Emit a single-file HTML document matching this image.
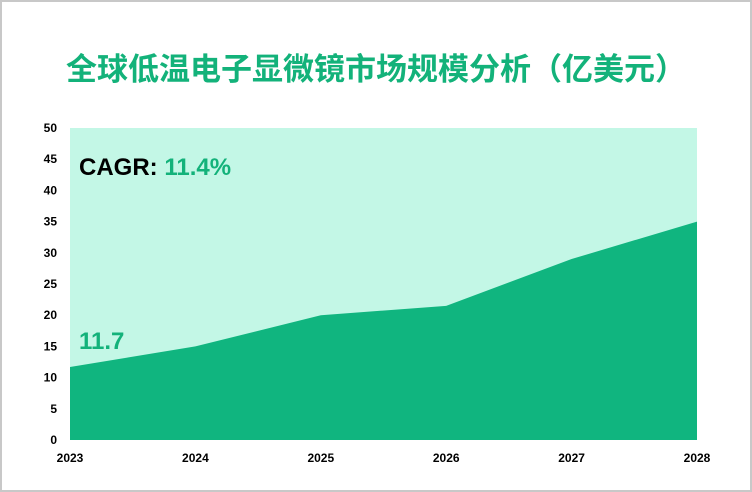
<!DOCTYPE html>
<html><head><meta charset="utf-8"><style>
body{margin:0;background:#fff}
#wrap{position:relative;width:748px;height:488px;border:2px solid #c8c8c8;overflow:hidden}
svg text{font-family:"Liberation Sans","Noto Sans CJK SC",sans-serif}
</style></head><body>
<div id="wrap">
<svg id="chart" width="752" height="492" style="position:absolute;left:-2px;top:-2px">
<text x="376" y="80" text-anchor="middle" font-size="31" font-weight="bold" fill="#13b27a">全球低温电子显微镜市场规模分析（亿美元）</text>
</svg>
</div>
<script>
const years=["2023","2024","2025","2026","2027","2028"];
const values=[11.7,15,20,21.5,29,35];
const yTicks=[0,5,10,15,20,25,30,35,40,45,50];
const svg=document.getElementById('chart');
const NS='http://www.w3.org/2000/svg';
const x0=70,x1=697,y0=440,y1=128,yMax=50;
const xs=i=>x0+(x1-x0)*i/(years.length-1);
const ys=v=>y0-(y0-y1)*v/yMax;
function mk(t,a,txt){const e=document.createElementNS(NS,t);for(const k in a)e.setAttribute(k,a[k]);if(txt!=null)e.textContent=txt;svg.appendChild(e);return e;}
const bg=mk('rect',{x:x0,y:y1,width:x1-x0,height:y0-y1,fill:'#c3f7e6'});


let d='M'+xs(0)+','+y0;
values.forEach((v,i)=>{d+=' L'+xs(i)+','+ys(v);});
d+=' L'+xs(values.length-1)+','+y0+' Z';
const area=mk('path',{d:d,fill:'#10b57f'});


yTicks.forEach(t=>{
 const e=mk('text',{x:57,y:ys(t)+4,'text-anchor':'end','font-size':12,'font-weight':'bold',fill:'#000'},t);
 
 
});
years.forEach((y,i)=>{
 const e=mk('text',{x:xs(i),y:462,'text-anchor':'middle','font-size':12,'font-weight':'bold',fill:'#000'},y);
 
 
});
const c=mk('text',{x:79,y:175,'font-size':24,'font-weight':'bold',fill:'#000'});


c.innerHTML='CAGR: <tspan fill="#13b27a">11.4%</tspan>';
const f=mk('text',{x:79,y:349,'font-size':24,'font-weight':'bold',fill:'#13b27a'},values[0]);


</script>
</body></html>
